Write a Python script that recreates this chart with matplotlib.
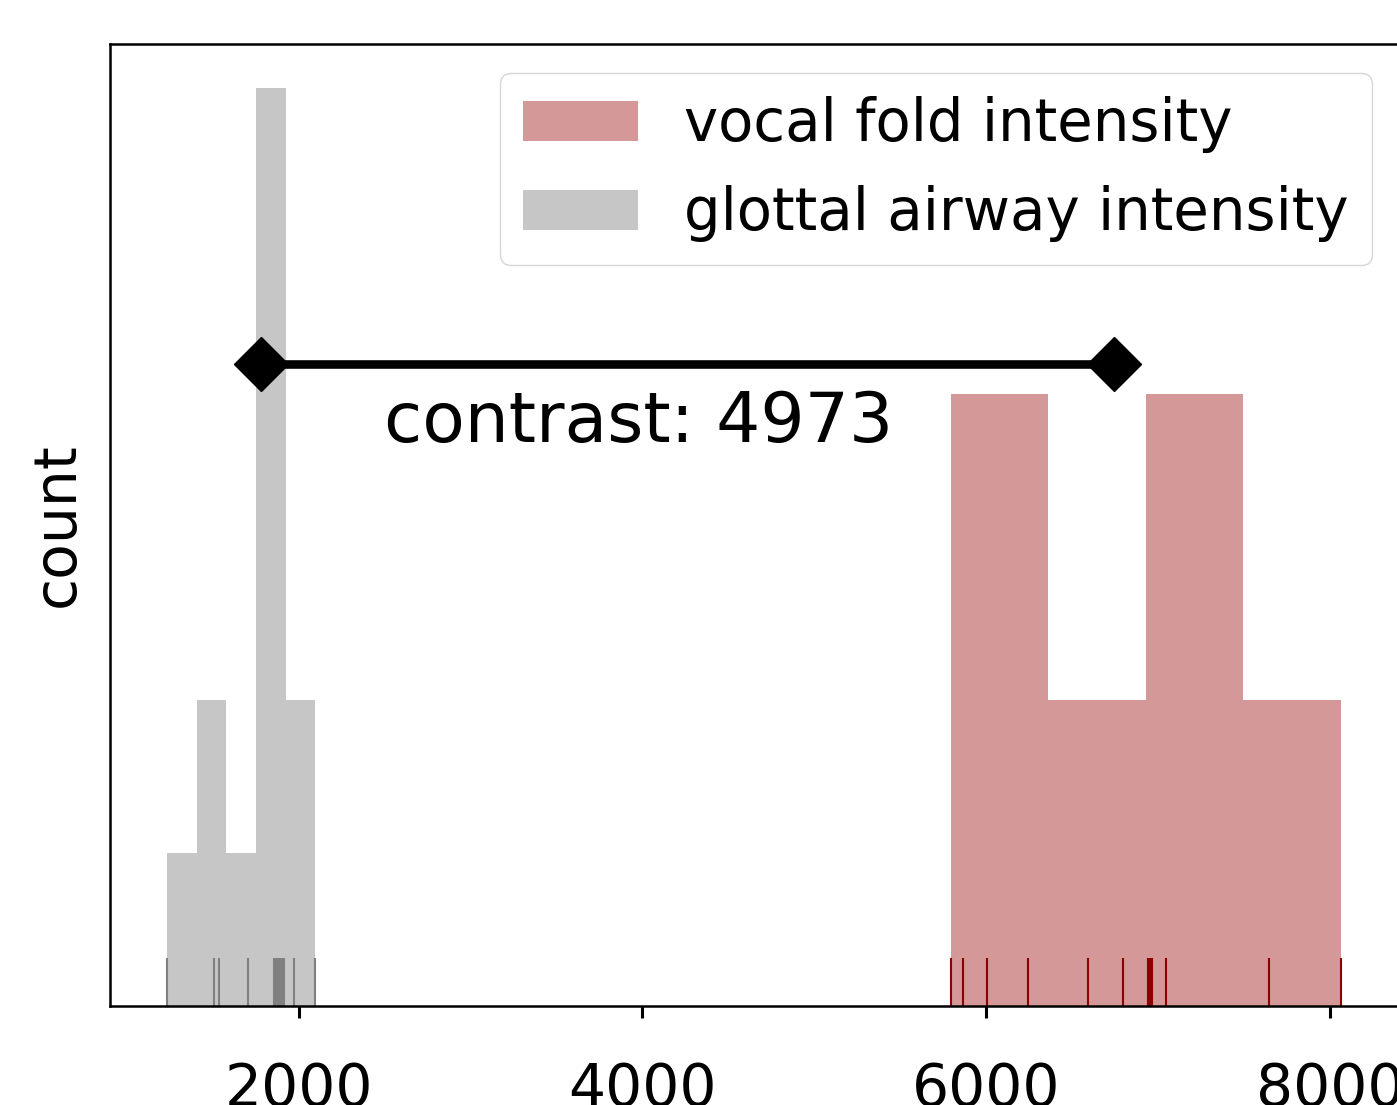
import matplotlib.pyplot as plt
import numpy as np

# intensity samples
vocal_fold_intensity = [5792, 5866, 6002, 6244, 6593, 6791, 6939, 6951, 6962, 7044, 7640, 8061]
glottal_intensity = [1235, 1507, 1536, 1705, 1858, 1870, 1882, 1894, 1905, 1916, 1976, 2098]
labels = ['vocal fold intensity', 'glottal airway intensity']
contrast_text = 'contrast: 4973'
xticks = [2000, 4000, 6000, 8000]

fig = plt.figure(figsize=(13.97, 11.05), dpi=100)
ax = fig.add_axes([110 / 1397, 1 - 1006 / 1105, (1401 - 110) / 1397, (1006 - 44) / 1105])

# histograms
ax.hist(vocal_fold_intensity, bins=4, color='#d49898', label=labels[0])
ax.hist(glottal_intensity, bins=5, color='#c6c6c6', label=labels[1])

# rug plots
ax.vlines(vocal_fold_intensity, 0, 0.05, transform=ax.get_xaxis_transform(),
          color='darkred', lw=1.5)
ax.vlines(glottal_intensity, 0, 0.05, transform=ax.get_xaxis_transform(),
          color='gray', lw=1.5)

# contrast between the means
line_y = 4.2
g_mean = np.mean(glottal_intensity)
v_mean = np.mean(vocal_fold_intensity)
ax.plot([g_mean, v_mean], [line_y, line_y], color='black', lw=6.2,
        marker='D', ms=27)
ax.text(3980, 3.69, contrast_text, ha='center', va='baseline', fontsize=50)

ax.set_xlim(904, 8410)
ax.set_ylim(0, 6.29)
ax.set_xticks(xticks)
ax.set_yticks([])
ax.tick_params(axis='x', length=8.6, width=2.2, pad=31, labelsize=42)
for sp in ax.spines.values():
    sp.set_linewidth(1.8)
ax.set_ylabel('count', fontsize=42, labelpad=17.5)

ax.legend(loc='upper right', fontsize=41.6, labelspacing=0.56)

fig.savefig('out.png', dpi=100)
